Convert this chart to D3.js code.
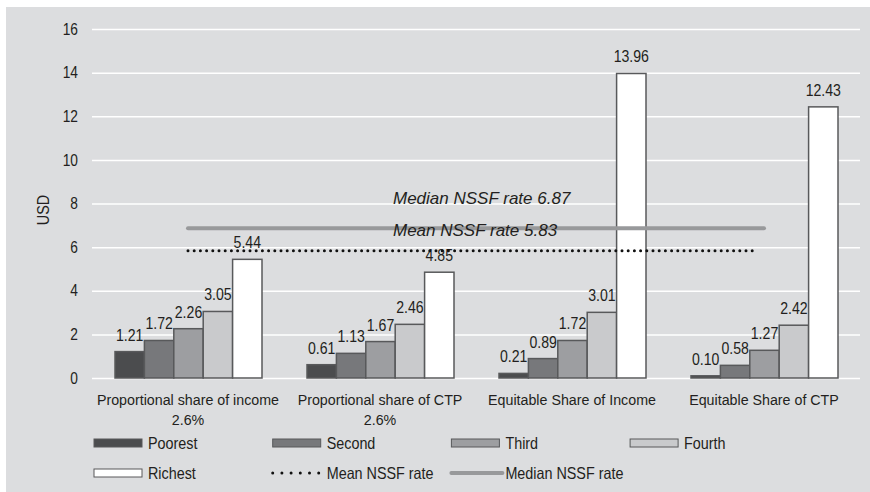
<!DOCTYPE html>
<html>
<head>
<meta charset="utf-8">
<script src="https://cdn.jsdelivr.net/npm/d3@7"></script>
<style>
  html, body { margin: 0; padding: 0; background: #fff; }
  svg { display: block; font-family: "Liberation Sans", Arial, sans-serif; }
</style>
</head>
<body>
<svg id="chart" width="870" height="492"></svg>
<script>
// Contribution scenarios (x categories), with optional second label line
const categories = [
  "Proportional share of income",
  "Proportional share of CTP",
  "Equitable Share of Income",
  "Equitable Share of CTP"
];
const categorySub = ["2.6%", "2.6%", "", ""];

// Wealth quintiles
const quintiles = ["Poorest", "Second", "Third", "Fourth", "Richest"];

// USD per quintile, one array per scenario
const propIncome = [1.21, 1.72, 2.26, 3.05, 5.44];
const propCTP    = [0.61, 1.13, 1.67, 2.46, 4.85];
const equiIncome = [0.21, 0.89, 1.72, 3.01, 13.96];
const equiCTP    = [0.10, 0.58, 1.27, 2.42, 12.43];
const values = [propIncome, propCTP, equiIncome, equiCTP];

const meanRate = 5.83;
const medianRate = 6.87;
const yTicks = [0, 2, 4, 6, 8, 10, 12, 14, 16];

const fills = ["#4b4c4e", "#77787b", "#9d9ea1", "#c9cacc", "#ffffff"];
const ink = "#231f20";

// condensed look: text drawn at its own origin and squeezed horizontally
const squeeze = (x, y, k) => `translate(${x},${y}) scale(${k},1)`;

const svg = d3.select("#chart");

// panel background
svg.append("rect")
  .attr("x", 6).attr("y", 7).attr("width", 864).attr("height", 485)
  .attr("fill", "#dcdddf");

const y = d3.scaleLinear().domain([0, 16]).range([378, 29]);
const x0 = d3.scaleBand().domain(categories).range([92, 860]).padding(0);
const x1 = d3.scaleBand().domain(quintiles)
  .range([23, x0.bandwidth() - 22]).padding(0);

// horizontal gridlines (white), including the baseline
svg.append("g")
  .attr("transform", "translate(92,0)")
  .call(d3.axisLeft(y).tickValues(yTicks).tickSize(-768).tickFormat(""))
  .call(g => g.select(".domain").remove())
  .call(g => g.selectAll(".tick line").attr("stroke", "#ffffff").attr("stroke-width", 1.5));

// y tick labels
svg.append("g")
  .attr("transform", "translate(78,0)")
  .call(d3.axisLeft(y).tickValues(yTicks).tickSize(0).tickPadding(0))
  .call(g => g.select(".domain").remove())
  .call(g => g.selectAll("text")
    .attr("x", 0)
    .attr("transform", "scale(0.86,1)")
    .attr("fill", ink).attr("font-size", 16)
    .attr("font-family", "Liberation Sans, Arial, sans-serif"));

svg.append("text")
  .attr("transform", "translate(49,210) rotate(-90) scale(0.9,1)")
  .attr("text-anchor", "middle")
  .attr("font-size", 16).attr("fill", ink)
  .text("USD");

// bars
const groups = svg.append("g").selectAll("g")
  .data(categories)
  .join("g")
  .attr("transform", d => `translate(${x0(d)},0)`);

groups.selectAll("rect")
  .data((d, i) => values[i].map((v, j) => ({ q: quintiles[j], v, j })))
  .join("rect")
  .attr("x", d => x1(d.q))
  .attr("y", d => y(d.v))
  .attr("width", x1.bandwidth())
  .attr("height", d => y(0) - y(d.v))
  .attr("fill", d => fills[d.j])
  .attr("stroke", "#58595b")
  .attr("stroke-width", 1.5);

groups.selectAll("text.val")
  .data((d, i) => values[i].map((v, j) => ({ q: quintiles[j], v })))
  .join("text")
  .attr("class", "val")
  .attr("transform", d => squeeze(x1(d.q) + x1.bandwidth() / 2, y(d.v) - 11, 0.83))
  .attr("text-anchor", "middle")
  .attr("font-size", 17).attr("fill", ink)
  .text(d => d.v.toFixed(2));

// category labels
const catLab = svg.append("g").selectAll("g")
  .data(categories)
  .join("g")
  .attr("transform", d => squeeze(x0(d) + x0.bandwidth() / 2, 405, 0.92))
  .append("text")
  .attr("text-anchor", "middle")
  .attr("font-size", 15.5).attr("fill", ink);
catLab.append("tspan").attr("x", 0).attr("y", 0).text(d => d);
catLab.append("tspan").attr("x", 0).attr("y", 20)
  .text((d, i) => categorySub[i]);

// reference lines from first to last category centre
const xStart = x0(categories[0]) + x0.bandwidth() / 2;
const xEnd = x0(categories[categories.length - 1]) + x0.bandwidth() / 2;

svg.append("line")
  .attr("x1", xStart).attr("x2", xEnd)
  .attr("y1", y(medianRate)).attr("y2", y(medianRate))
  .attr("stroke", "#98999b").attr("stroke-width", 4)
  .attr("stroke-linecap", "round");

svg.append("line")
  .attr("x1", xStart).attr("x2", xEnd - 6)
  .attr("y1", y(meanRate)).attr("y2", y(meanRate))
  .attr("stroke", "#111").attr("stroke-width", 3)
  .attr("stroke-dasharray", "0 6.2")
  .attr("stroke-linecap", "round");

svg.append("text")
  .attr("x", 393).attr("y", y(medianRate) - 24)
  .attr("font-size", 17).attr("font-style", "italic").attr("fill", ink)
  .text(`Median NSSF rate ${medianRate.toFixed(2)}`);

svg.append("text")
  .attr("x", 393).attr("y", y(meanRate) - 15)
  .attr("font-size", 17).attr("font-style", "italic").attr("fill", ink)
  .text(`Mean NSSF rate ${meanRate.toFixed(2)}`);

// legend
const legendItems = quintiles.map((q, j) => ({ label: q, type: "bar", fill: fills[j] }))
  .concat([
    { label: "Mean NSSF rate", type: "dots" },
    { label: "Median NSSF rate", type: "line" }
  ]);

const leg = svg.append("g").selectAll("g")
  .data(legendItems)
  .join("g")
  .attr("transform", (d, i) => `translate(${94 + (i % 4) * 178.7},${443 + Math.floor(i / 4) * 30})`);

leg.filter(d => d.type === "bar").append("rect")
  .attr("x", 0).attr("y", -4).attr("width", 48).attr("height", 8)
  .attr("fill", d => d.fill)
  .attr("stroke", "#58595b").attr("stroke-width", 1);

leg.filter(d => d.type === "dots").append("line")
  .attr("x1", 0).attr("x2", 46).attr("y1", 0).attr("y2", 0)
  .attr("stroke", "#111").attr("stroke-width", 3)
  .attr("stroke-dasharray", "0 9.2").attr("stroke-linecap", "round");

leg.filter(d => d.type === "line").append("line")
  .attr("x1", 0).attr("x2", 51).attr("y1", 0).attr("y2", 0)
  .attr("stroke", "#98999b").attr("stroke-width", 4)
  .attr("stroke-linecap", "round");

leg.append("text")
  .attr("transform", squeeze(54, 5.5, 0.87))
  .attr("font-size", 16.5).attr("fill", ink)
  .text(d => d.label);
</script>
</body>
</html>
